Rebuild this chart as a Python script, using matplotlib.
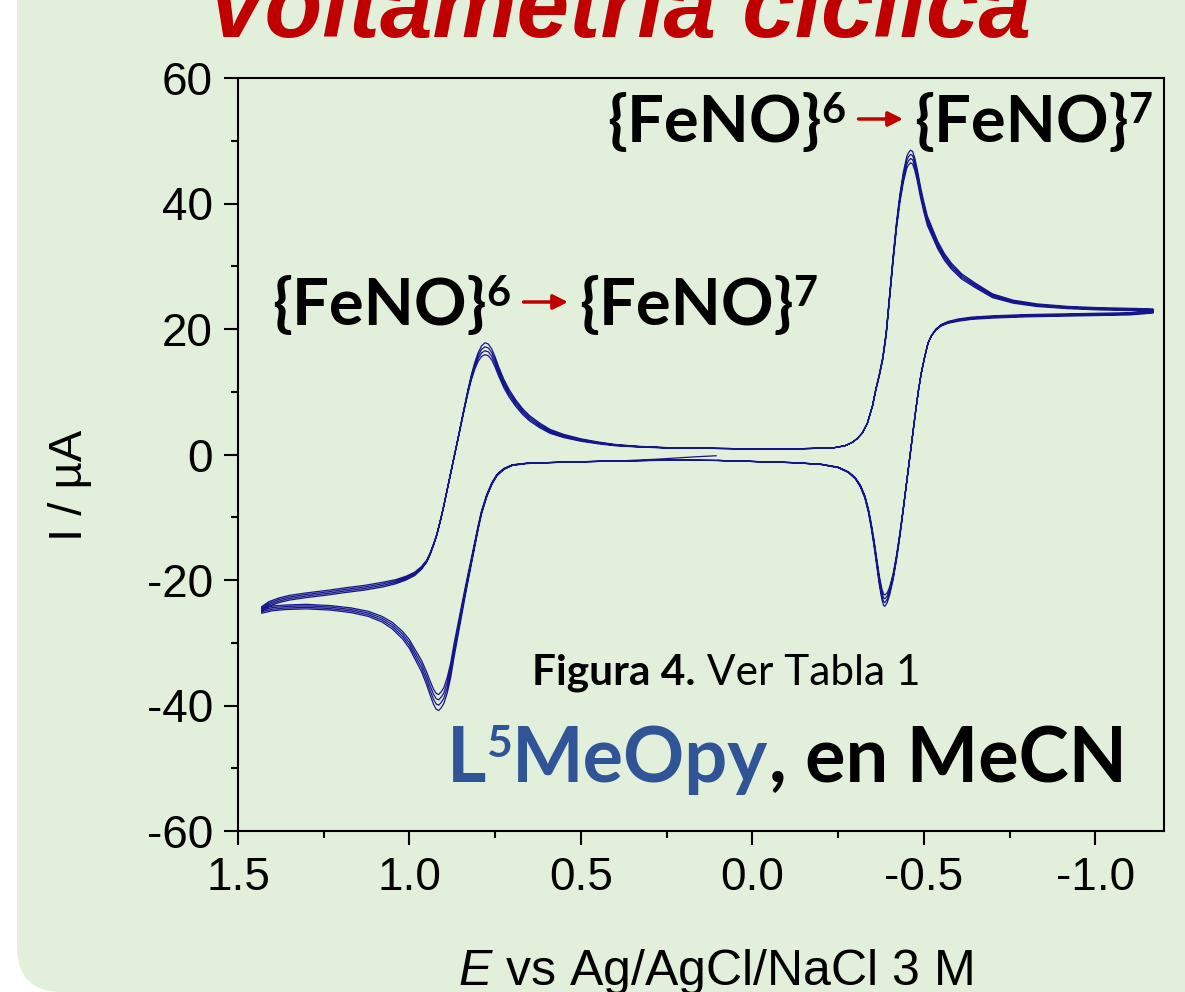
import matplotlib
matplotlib.use("Agg")
import matplotlib.pyplot as plt
from matplotlib.patches import FancyBboxPatch, FancyArrowPatch
from matplotlib.transforms import IdentityTransform
from matplotlib.ticker import MultipleLocator
import numpy as np

plt.rcParams['font.family'] = ['Liberation Sans', 'DejaVu Sans']
plt.rcParams['axes.unicode_minus'] = False
plt.rcParams['mathtext.fontset'] = 'custom'
plt.rcParams['mathtext.rm'] = 'Liberation Sans'
plt.rcParams['mathtext.it'] = 'Liberation Sans:italic'

W, H = 1185, 992

# cathodic sweep (+1.43 -> -1.17 V): potential / V, current / uA
red_E = [1.431, 1.41, 1.38, 1.35, 1.30, 1.24, 1.188, 1.13, 1.077, 1.04,
         1.01, 0.985, 0.965, 0.95, 0.94, 0.93, 0.92, 0.91, 0.90, 0.89,
         0.88, 0.87, 0.86, 0.85, 0.84, 0.83, 0.82, 0.81, 0.80, 0.79,
         0.78, 0.77, 0.76, 0.75, 0.74, 0.725, 0.71, 0.69, 0.67, 0.65,
         0.62, 0.59, 0.55, 0.50, 0.45, 0.40, 0.33, 0.25, 0.15, 0.0,
         -0.12, -0.2, -0.24, -0.27, -0.29, -0.305, -0.32, -0.335, -0.35, -0.36,
         -0.37, -0.38, -0.39, -0.40, -0.41, -0.42, -0.43, -0.44, -0.45, -0.455,
         -0.461, -0.467, -0.473, -0.48, -0.49, -0.50, -0.51, -0.525, -0.54, -0.56,
         -0.58, -0.61, -0.65, -0.70, -0.76, -0.83, -0.92, -1.01, -1.10, -1.168]
red_I = [-25.0, -24.2, -23.6, -23.2, -22.8, -22.4, -22.0, -21.6, -21.1, -20.6,
         -20.0, -19.3, -18.3, -17.2, -16.0, -14.5, -12.8, -10.6, -8.2, -5.6,
         -3.0, -0.4, 2.2, 4.9, 7.6, 10.2, 12.6, 14.6, 16.2, 17.3,
         17.8, 17.6, 16.8, 15.5, 14.0, 12.0, 10.4, 8.7, 7.3, 6.2,
         5.0, 4.0, 3.2, 2.5, 2.0, 1.6, 1.3, 1.1, 1.0, 0.9,
         0.9, 1.0, 1.1, 1.4, 1.9, 2.5, 3.4, 5.0, 7.8, 10.5,
         12.8, 15.5, 19.5, 25.5, 31.5, 37.0, 41.5, 45.0, 47.5, 48.1,
         48.5, 48.3, 47.3, 45.6, 42.7, 40.2, 38.0, 36.0, 34.0, 32.0,
         30.5, 28.8, 27.3, 25.6, 24.6, 24.0, 23.6, 23.4, 23.3, 23.2]
# change of current from one cycle to the next along the cathodic sweep
red_dI = [0.25, 0.25, 0.25, 0.25, 0.25, 0.25, 0.25, 0.25, 0.25, 0.22,
          0.2, 0.18, 0.15, 0.12, 0.1, 0.08, 0.05, 0.03, 0.0, 0.0,
          0.0, -0.02, -0.05, -0.08, -0.12, -0.18, -0.26, -0.36, -0.46, -0.56,
          -0.63, -0.62, -0.58, -0.54, -0.5, -0.45, -0.4, -0.35, -0.31, -0.28,
          -0.25, -0.21, -0.17, -0.13, -0.1, -0.07, -0.04, -0.02, 0.0, 0.0,
          0.0, 0.0, 0.0, 0.0, 0.0, 0.0, 0.0, -0.02, -0.04, -0.06,
          -0.09, -0.12, -0.16, -0.2, -0.26, -0.34, -0.44, -0.54, -0.62, -0.65,
          -0.67, -0.67, -0.65, -0.62, -0.58, -0.54, -0.5, -0.45, -0.4, -0.36,
          -0.32, -0.28, -0.24, -0.2, -0.16, -0.14, -0.12, -0.12, -0.12, -0.12]

# anodic sweep (-1.17 -> +1.43 V)
ox_E = [-1.168, -1.10, -1.00, -0.90, -0.80, -0.70, -0.64, -0.60, -0.57, -0.55,
        -0.535, -0.522, -0.512, -0.502, -0.492, -0.484, -0.476, -0.468, -0.458, -0.45,
        -0.44, -0.43, -0.42, -0.41, -0.40, -0.393, -0.386, -0.382, -0.377, -0.37,
        -0.362, -0.354, -0.346, -0.338, -0.328, -0.315, -0.30, -0.28, -0.25, -0.20,
        -0.12, 0.0, 0.1, 0.2, 0.3, 0.4, 0.5, 0.6, 0.66, 0.70,
        0.725, 0.745, 0.76, 0.775, 0.79, 0.80, 0.81, 0.82, 0.83, 0.84,
        0.85, 0.86, 0.87, 0.88, 0.89, 0.90, 0.908, 0.915, 0.922, 0.93,
        0.94, 0.95, 0.965, 0.98, 1.00, 1.02, 1.05, 1.08, 1.12, 1.17,
        1.23, 1.30, 1.36, 1.40, 1.431]
ox_I = [22.9, 22.6, 22.5, 22.4, 22.3, 22.1, 21.9, 21.6, 21.2, 20.7,
        20.0, 19.0, 17.8, 15.5, 12.9, 10.2, 7.0, 3.5, -1.0, -4.5,
        -8.8, -13.0, -16.8, -20.0, -22.4, -23.6, -24.2, -24.0, -23.0, -20.8,
        -17.6, -14.4, -11.6, -9.2, -7.0, -5.2, -3.9, -2.9, -2.1, -1.6,
        -1.3, -1.1, -0.95, -0.9, -0.95, -1.05, -1.15, -1.3, -1.45, -1.75,
        -2.4, -3.4, -4.8, -6.8, -9.5, -12.0, -14.8, -17.6, -20.4, -23.3,
        -26.3, -29.3, -32.3, -35.6, -38.0, -39.7, -40.4, -40.8, -40.6, -39.8,
        -38.3, -36.7, -34.6, -33.0, -30.9, -29.4, -27.8, -26.7, -25.8, -25.2,
        -24.8, -24.6, -24.7, -24.9, -25.3]
ox_dI = [-0.12, -0.12, -0.12, -0.12, -0.12, -0.12, -0.12, -0.12, -0.1, -0.08,
         -0.06, -0.04, -0.02, 0.0, 0.0, 0.0, 0.0, 0.02, 0.05, 0.08,
         0.12, 0.17, 0.24, 0.32, 0.42, 0.52, 0.6, 0.6, 0.56, 0.48,
         0.4, 0.32, 0.25, 0.19, 0.14, 0.1, 0.07, 0.05, 0.03, 0.02,
         0.0, 0.0, 0.0, 0.0, 0.0, 0.0, 0.0, 0.0, 0.02, 0.04,
         0.06, 0.08, 0.1, 0.13, 0.17, 0.21, 0.26, 0.32, 0.4, 0.48,
         0.56, 0.64, 0.72, 0.78, 0.82, 0.84, 0.85, 0.85, 0.84, 0.8,
         0.74, 0.68, 0.6, 0.53, 0.46, 0.4, 0.35, 0.3, 0.27, 0.25,
         0.24, 0.24, 0.24, 0.25, 0.25]

# first sweep leaves the rest potential (+0.106 V) towards positive potentials
start_E = [0.106, 0.16, 0.22, 0.28, 0.34]
start_I = [-0.2, -0.35, -0.55, -0.75, -0.9]
E_rest = start_E[0]
n_cycles = 4

red_E, red_I, red_dI = map(np.array, (red_E, red_I, red_dI))
ox_E, ox_I, ox_dI = map(np.array, (ox_E, ox_I, ox_dI))
left = ox_E > E_rest
first = ox_E > start_E[-1]

# stitch the full scan: rest -> +1.43, then 4 cycles, ending back near rest
E_path = [start_E, ox_E[first]]
I_path = [start_I, ox_I[first]]
for c in range(n_cycles):
    E_path.append(red_E)
    I_path.append(red_I + c * red_dI)
    E_path.append(ox_E[~left])
    I_path.append(ox_I[~left] + c * ox_dI[~left])
    if c < n_cycles - 1:
        E_path.append(ox_E[left])
        I_path.append(ox_I[left] + (c + 1) * ox_dI[left])
E_path = np.concatenate(E_path)
I_path = np.concatenate(I_path)

fig = plt.figure(figsize=(W / 100, H / 100), dpi=100)
fig.patch.set_facecolor('white')
panel = FancyBboxPatch((17, 0), 1500, 1300, boxstyle="round,pad=0,rounding_size=45",
                       transform=IdentityTransform(), facecolor='#e2efda', edgecolor='none',
                       zorder=-10)
fig.add_artist(panel)

ax = fig.add_axes([238 / W, 1 - 831 / H, (1164 - 238) / W, (831 - 78) / H])
ax.set_facecolor('none')
ax.plot(E_path, I_path, color='#16168c', lw=0.9)
ax.set_xlim(1.5, -1.2)
ax.set_ylim(-60, 60)
ax.xaxis.set_major_locator(MultipleLocator(0.5))
ax.xaxis.set_minor_locator(MultipleLocator(0.25))
ax.yaxis.set_major_locator(MultipleLocator(20))
ax.yaxis.set_minor_locator(MultipleLocator(10))
for sp in ax.spines.values():
    sp.set_linewidth(1.5)
ax.tick_params(which='major', direction='out', length=10, width=1.5, labelsize=33, pad=8)
ax.tick_params(which='minor', direction='out', length=5, width=1.5)

fig.text(70 / W, 1 - 485 / H, 'I / µA', rotation=90, ha='center', va='center', fontsize=34)
fig.text(715 / W, 1 - 985 / H, r'$\mathit{E}$ vs Ag/AgCl/NaCl 3 M',
         ha='center', va='baseline', fontsize=36)

# heading, mostly cropped off the top edge
fig.text(205 / W, 1 - 37 / H, 'Voltametría cíclica', ha='left', va='baseline',
         color='#c00000', fontsize=68, fontweight='bold', fontstyle='italic')

renderer = fig.canvas.get_renderer()
LATO = ['Lato', 'DejaVu Sans']


def put_runs(x, y, runs):
    # runs of text laid out left to right on a common baseline (pixels from top)
    for text, size, weight, color, rise in runs:
        t = fig.text(x / W, 1 - (y - rise) / H, text, fontsize=size, fontweight=weight,
                     color=color, family=LATO, ha='left', va='baseline')
        x += t.get_window_extent(renderer).width
    return x


def transition(x, y):
    x = put_runs(x, y, [('{FeNO}', 47, 'bold', 'black', 0), ('6', 30, 'bold', 'black', 19)])
    x += 10
    arrow = FancyArrowPatch((x / W, 1 - (y - 23) / H), ((x + 50) / W, 1 - (y - 23) / H),
                            transform=fig.transFigure, arrowstyle='-|>', mutation_scale=22,
                            color='#c00000', lw=2.5)
    fig.add_artist(arrow)
    x += 58
    put_runs(x, y, [('{FeNO}', 47, 'bold', 'black', 0), ('7', 30, 'bold', 'black', 19)])


transition(607, 142)
transition(272, 325)

put_runs(532, 685, [('Figura 4.', 30.5, 'bold', 'black', 0),
                    (' Ver Tabla 1', 30.5, 'normal', 'black', 0)])
put_runs(447, 782, [('L', 54.5, 'bold', '#2f5597', 0), ('5', 32, 'bold', '#2f5597', 25),
                    ('MeOpy', 54.5, 'bold', '#2f5597', 0), (', en MeCN', 54.5, 'bold', 'black', 0)])

fig.savefig('out.png', dpi=100, facecolor=fig.get_facecolor())
